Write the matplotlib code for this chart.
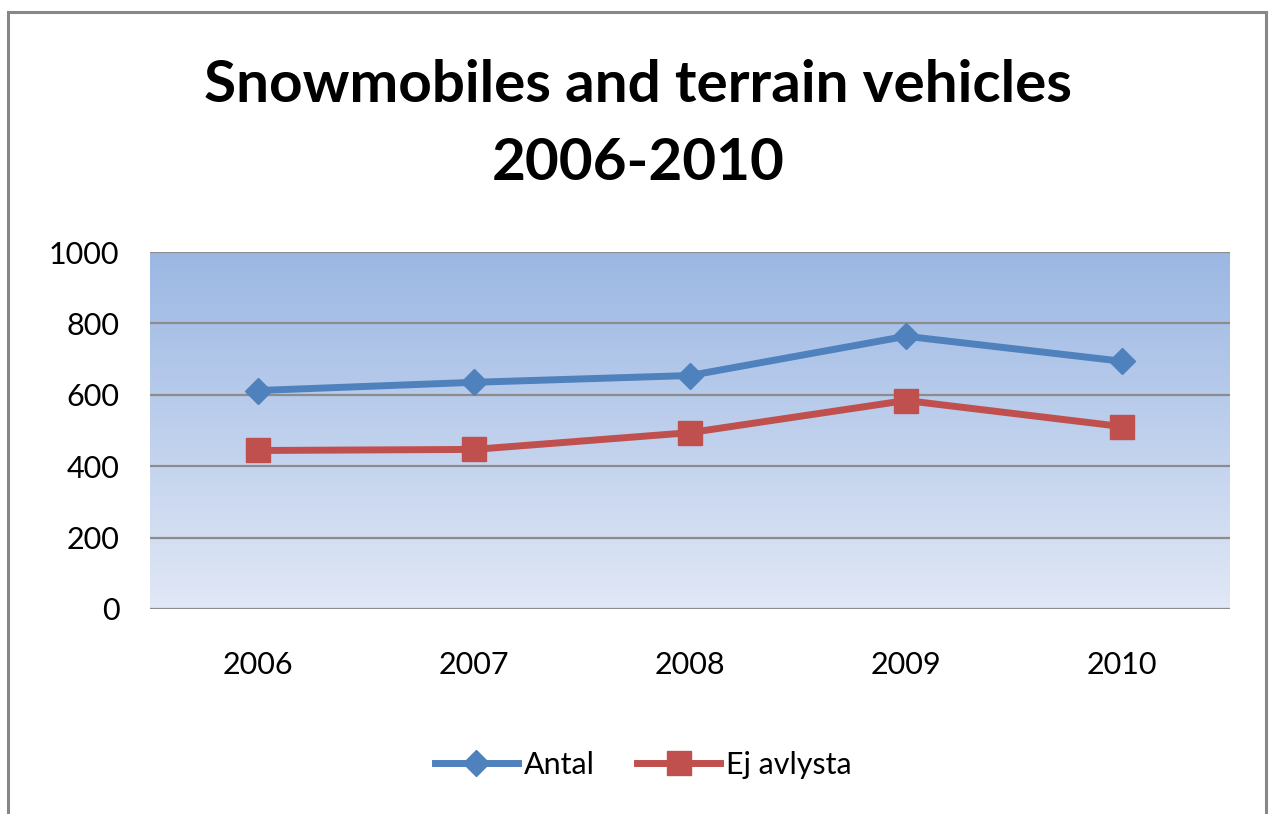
import numpy as np
import matplotlib
matplotlib.use("Agg")
from matplotlib import pyplot as plt
from matplotlib.patches import Rectangle

years = ['2006', '2007', '2008', '2009', '2010']
antal = [612, 635, 654, 764, 694]
ej_avlysta = [444, 447, 494, 584, 511]
yticks = [0, 200, 400, 600, 800, 1000]

plt.rcParams['font.family'] = ['Lato', 'DejaVu Sans']

W, H = 1269, 814
fig = plt.figure(figsize=(W / 100, H / 100), dpi=100)

# outer chart border
fig.patches.append(Rectangle((8 / W, -0.05), (1266 - 8) / W, 1.05 - 12 / H,
                             transform=fig.transFigure, fill=False,
                             edgecolor='#878787', linewidth=2.2))

ax = fig.add_axes([150 / W, (H - 609) / H, 1080 / W, 357 / H])
x = np.arange(len(years))

# gradient fill of plot area
top = np.array([0x9B, 0xB7, 0xE3]) / 255
bot = np.array([0xE1, 0xE8, 0xF6]) / 255
t = np.linspace(0, 1, 256)[:, None]
grad = (top * (1 - t) + bot * t)[:, None, :]
ax.imshow(grad, extent=(-0.5, 4.5, 0, 1000), aspect='auto', zorder=0)

for v in yticks:
    ax.axhline(v, color='#8c8c8c', linewidth=1.6, zorder=1)

ax.plot(x, antal, color='#4F81BD', linewidth=5, marker='D', markersize=13,
        label='Antal', zorder=3)
ax.plot(x, ej_avlysta, color='#C0504D', linewidth=5, marker='s', markersize=17,
        label='Ej avlysta', zorder=3)

ax.set_xlim(-0.5, 4.5)
ax.set_ylim(0, 1000)
ax.set_xticks(x)
ax.set_xticklabels(years)
ax.set_yticks(yticks)
for s in ax.spines.values():
    s.set_visible(False)
ax.tick_params(axis='both', length=0, labelsize=22, colors='#000000')
ax.tick_params(axis='x', pad=30)
ax.tick_params(axis='y', pad=22)

# title, two lines
fig.text(0.503, 1 - 86 / H, "Snowmobiles and terrain vehicles",
         ha='center', va='center', fontsize=42, fontweight='bold')
fig.text(0.503, 1 - 164 / H, "2006-2010",
         ha='center', va='center', fontsize=42, fontweight='bold')

fig.legend(loc='center', bbox_to_anchor=(0.507, 0.06), ncol=2, frameon=False,
           fontsize=22, handlelength=2.7, handletextpad=0.2, columnspacing=1.4)

fig.savefig('out.png', dpi=100)
